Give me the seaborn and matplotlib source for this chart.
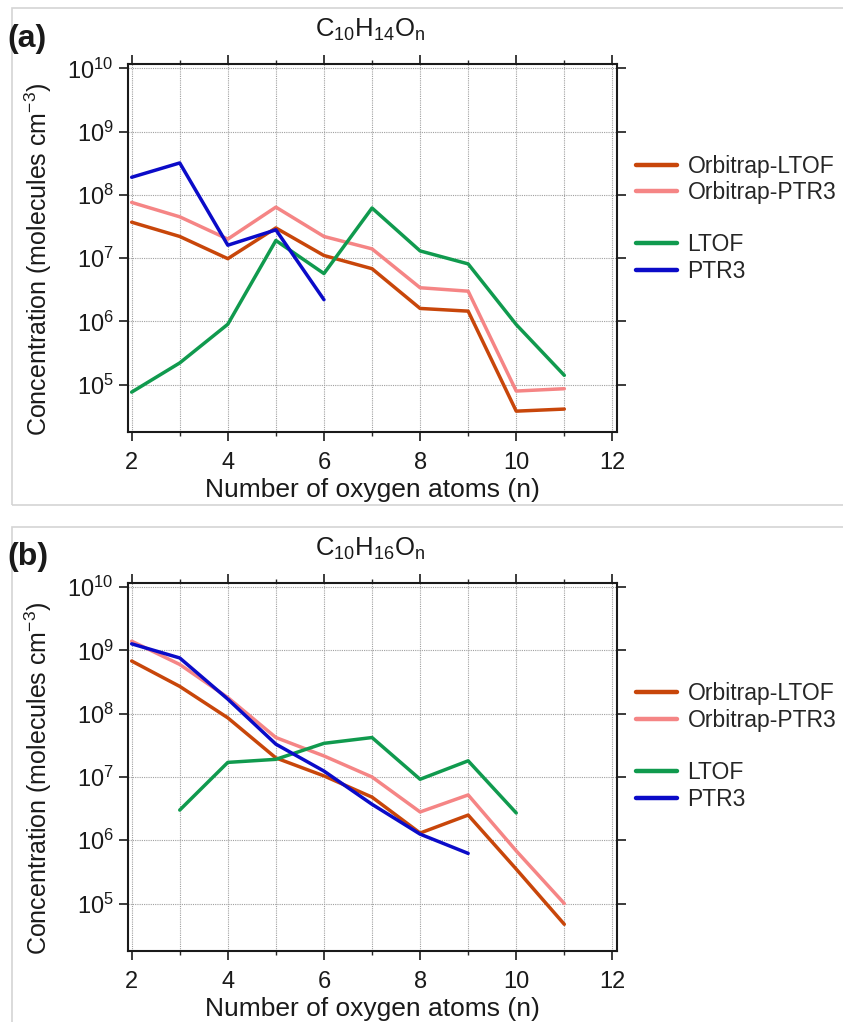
import numpy as np
import pandas as pd
import seaborn as sns
import matplotlib
matplotlib.use("Agg")
import matplotlib.pyplot as plt
from matplotlib import font_manager
from matplotlib.lines import Line2D
from matplotlib.patches import Rectangle
from matplotlib.ticker import LogLocator, MultipleLocator, NullLocator

# ---------------- data ----------------
n_oxygen = [2, 3, 4, 5, 6, 7, 8, 9, 10, 11]
series_names = ["Orbitrap-LTOF", "Orbitrap-PTR3", "LTOF", "PTR3"]

a_orbitrap_ltof = [3.7e7, 2.2e7, 9.8e6, 3.0e7, 1.1e7, 6.8e6, 1.6e6, 1.45e6, 3.8e4, 4.1e4]
a_orbitrap_ptr3 = [7.6e7, 4.5e7, 2.0e7, 6.4e7, 2.2e7, 1.4e7, 3.4e6, 3.0e6, 7.9e4, 8.6e4]
a_ltof = [7.6e4, 2.2e5, 9.0e5, 1.9e7, 5.7e6, 6.2e7, 1.3e7, 8.1e6, 8.9e5, 1.4e5]
a_ptr3 = [1.9e8, 3.2e8, 1.6e7, 2.8e7, 2.2e6, None, None, None, None, None]

b_orbitrap_ltof = [6.8e8, 2.7e8, 8.6e7, 2.0e7, 1.04e7, 4.8e6, 1.3e6, 2.5e6, 3.5e5, 4.7e4]
b_orbitrap_ptr3 = [1.4e9, 6.0e8, 1.8e8, 4.2e7, 2.15e7, 1.0e7, 2.8e6, 5.2e6, 6.8e5, 1.0e5]
b_ltof = [None, 3.0e6, 1.7e7, 1.9e7, 3.4e7, 4.2e7, 9.2e6, 1.8e7, 2.7e6, None]
b_ptr3 = [1.27e9, 7.6e8, 1.7e8, 3.3e7, 1.24e7, 3.7e6, 1.25e6, 6.2e5, None, None]

panel_titles = [r"C$_{10}$H$_{14}$O$_\mathrm{n}$", r"C$_{10}$H$_{16}$O$_\mathrm{n}$"]
panel_letters = ["(a)", "(b)"]
x_label = "Number of oxygen atoms (n)"
y_label = r"Concentration (molecules cm$^{-3}$)"

colors = {"Orbitrap-LTOF": "#C8460A", "Orbitrap-PTR3": "#F58585",
          "LTOF": "#109A4E", "PTR3": "#0B0BC8"}


def long_frame(values_list):
    rows = []
    for name, vals in zip(series_names, values_list):
        for n, v in zip(n_oxygen, vals):
            if v is not None:
                rows.append({"n": n, "conc": v, "series": name})
    return pd.DataFrame(rows)


panels = [long_frame([a_orbitrap_ltof, a_orbitrap_ptr3, a_ltof, a_ptr3]),
          long_frame([b_orbitrap_ltof, b_orbitrap_ptr3, b_ltof, b_ptr3])]

# ---------------- style ----------------
sns.set_style("ticks")
names = {f.name for f in font_manager.fontManager.ttflist}
narrow = "Liberation Sans Narrow" if "Liberation Sans Narrow" in names else "Liberation Sans"
plt.rcParams["font.family"] = [narrow, "DejaVu Sans"]
plt.rcParams["mathtext.fontset"] = "custom"
plt.rcParams["mathtext.rm"] = narrow
plt.rcParams["mathtext.it"] = narrow + ":italic"
plt.rcParams["mathtext.bf"] = narrow + ":bold"

W, H = 843, 1022
fig = plt.figure(figsize=(W / 100, H / 100), dpi=100)

# panel frames
for (y0, y1) in [(8, 505), (527, 1030)]:
    fig.patches.append(Rectangle((12 / W, 1 - y1 / H), (860 - 12) / W, (y1 - y0) / H,
                                 transform=fig.transFigure, fill=False,
                                 edgecolor="#d4d4d4", linewidth=1.2))

axes_rects = [[128.3 / W, 1 - 432 / H, 488.4 / W, 368 / H],
              [128.3 / W, 1 - 951 / H, 488.4 / W, 368.3 / H]]
legend_centers = [(179.7, 258.0), (707.0, 786.0)]
letter_y = [39, 557]
title_y = [30, 549]

for i, df in enumerate(panels):
    ax = fig.add_axes(axes_rects[i])
    sns.lineplot(data=df, x="n", y="conc", hue="series", hue_order=series_names,
                 palette=colors, linewidth=2.5, errorbar=None, legend=False, ax=ax)
    ax.set_yscale("log")
    ax.set_xlim(1.93, 12.09)
    ax.set_ylim(10 ** 4.25, 10 ** 10.07)
    ax.xaxis.set_major_locator(MultipleLocator(2))
    ax.xaxis.set_minor_locator(MultipleLocator(1))
    ax.yaxis.set_major_locator(LogLocator(base=10, numticks=20))
    ax.yaxis.set_minor_locator(NullLocator())
    ax.tick_params(axis="both", which="major", direction="out", length=6.5, width=1.2,
                   labelsize=17, colors="#1a1a1a")
    ax.tick_params(axis="x", which="major", pad=8)
    ax.tick_params(axis="y", which="major", pad=4)
    ax.tick_params(axis="x", which="minor", direction="out", length=3, width=1.0)
    ax.tick_params(top=True, right=True, which="both")
    ax.tick_params(labeltop=False, labelright=False)
    for sp in ax.spines.values():
        sp.set_linewidth(1.5)
        sp.set_color("#1a1a1a")
    ax.grid(True, which="major", axis="both", color="#a0a0a0", linestyle=(0, (1, 1)), linewidth=0.8)
    ax.grid(True, which="minor", axis="x", color="#a0a0a0", linestyle=(0, (1, 1)), linewidth=0.8)
    ax.set_axisbelow(True)
    ax.set_xlabel(x_label, fontsize=19, color="#1a1a1a")
    ax.set_ylabel(y_label, fontsize=18, color="#1a1a1a")
    ax.xaxis.set_label_coords(0.5, -0.125)
    ax.yaxis.set_label_coords(-0.152, 0.47)

    fig.text(370 / W, 1 - title_y[i] / H, panel_titles[i], ha="center", va="center",
             fontsize=18.5, color="#1a1a1a")
    fig.text(7 / W, 1 - letter_y[i] / H, panel_letters[i], ha="left", va="center",
             fontsize=23, fontweight="bold", family=["Liberation Sans", "DejaVu Sans"],
             color="#1a1a1a")

    groups = [series_names[:2], series_names[2:]]
    for g, yc in zip(groups, legend_centers[i]):
        handles = [Line2D([], [], color=colors[s], linewidth=3.2) for s in g]
        fig.legend(handles, g, loc="center left", bbox_to_anchor=(636 / W, 1 - yc / H),
                   frameon=False, borderpad=0, borderaxespad=0, handlelength=1.8,
                   handletextpad=0.45, labelspacing=0.15,
                   prop={"family": ["Liberation Sans", "DejaVu Sans"], "size": 16.5})

fig.savefig("out.png", dpi=100)
